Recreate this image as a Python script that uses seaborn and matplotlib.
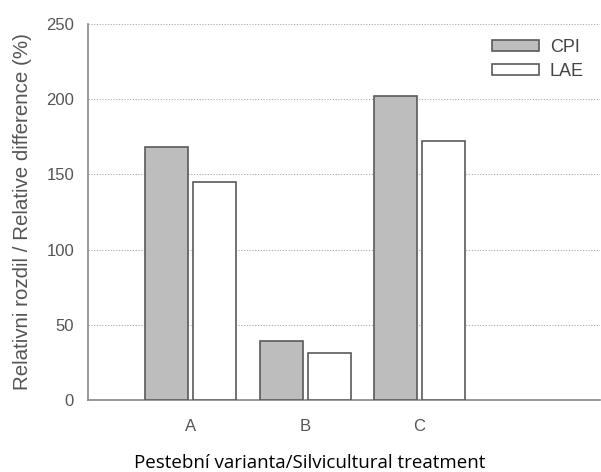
import pandas as pd
import matplotlib
matplotlib.use("Agg")
import matplotlib.pyplot as plt
import seaborn as sns

# Data
treatments = ["A", "B", "C"]
cpi = [168, 39.5, 202]
lae = [145, 31, 172.5]
series = ["CPI", "LAE"]

df = pd.DataFrame({
    "treatment": treatments * 2,
    "value": cpi + lae,
    "series": ["CPI"] * 3 + ["LAE"] * 3,
})

sns.set_style("white")
plt.rcParams["font.family"] = ["Liberation Sans", "DejaVu Sans"]

grey = "#555555"
fig = plt.figure(figsize=(6.01, 4.72), dpi=100)
ax = fig.add_axes([0.1464, 0.1525, 0.852, 0.7966])

sns.barplot(data=df, x="treatment", y="value", hue="series", hue_order=series,
            palette={"CPI": "#bdbdbd", "LAE": "white"}, width=0.84, gap=0.1,
            edgecolor="#5a5a5a", linewidth=1.2, ax=ax, zorder=3)

ax.set_xlim(-0.9, 3.58)
ax.set_ylim(0, 250)
ax.set_yticks([0, 50, 100, 150, 200, 250])
ax.yaxis.grid(True, linestyle=(0, (1, 1.5)), color="#aaaaaa", linewidth=0.8, zorder=0)
ax.set_axisbelow(True)

for s in ["top", "right"]:
    ax.spines[s].set_visible(False)
for s in ["left", "bottom"]:
    ax.spines[s].set_color("#888888")
    ax.spines[s].set_linewidth(1.2)

ax.tick_params(axis="both", colors="#888888", length=4.5, width=1.2, labelsize=12,
               labelcolor=grey, direction="out")
ax.tick_params(axis="x", pad=9)
ax.tick_params(axis="y", pad=5.5)

ax.set_ylabel("Relativni rozdil / Relative difference (%)", fontsize=14.8, color=grey)
ax.yaxis.set_label_coords(-0.109, 0.5)
ax.set_xlabel("Pestební varianta/Silvicultural treatment", fontsize=13.5, color="black",
              family=["Open Sans", "DejaVu Sans"])
ax.xaxis.set_label_coords(0.432, -0.143)

leg = ax.legend(loc="upper left", bbox_to_anchor=(0.789, 0.96), frameon=False,
                borderaxespad=0, borderpad=0,
                fontsize=13, handlelength=2.6, handleheight=0.61, handletextpad=0.6,
                labelspacing=0.38)
for t in leg.get_texts():
    t.set_color("#444444")

plt.savefig("out.png", dpi=100)
plt.close()
